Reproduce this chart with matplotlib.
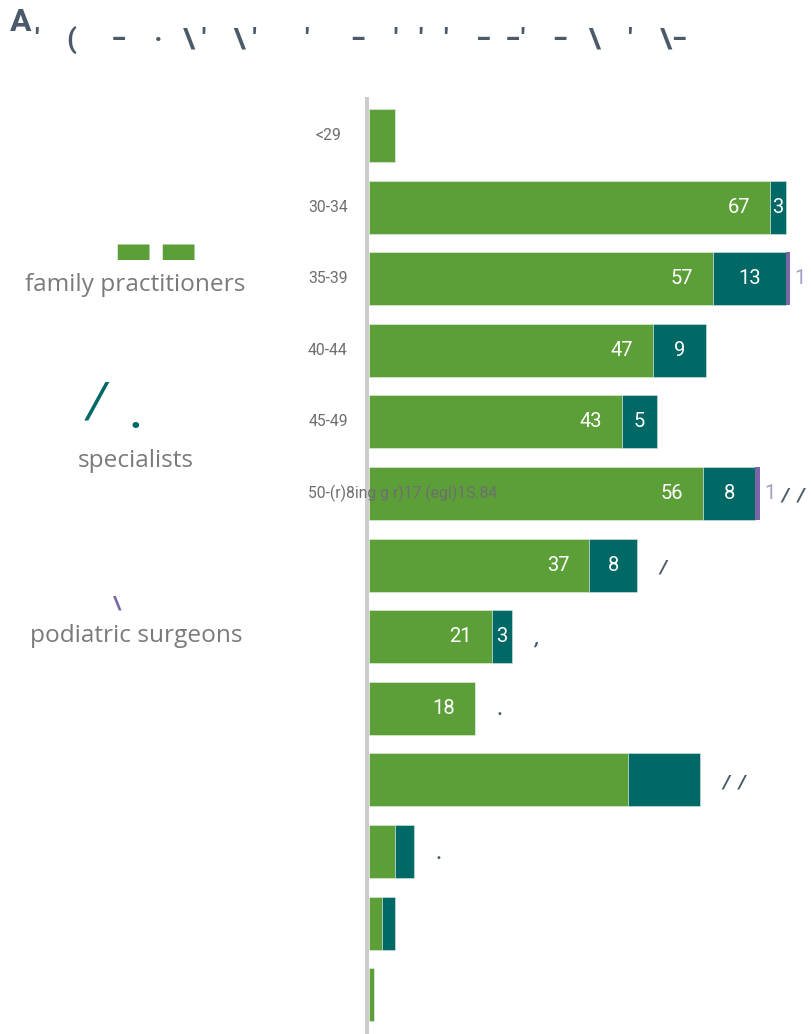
import numpy as np
import matplotlib.pyplot as plt
from matplotlib.transforms import blended_transform_factory

# data (one row per age band, top to bottom)
age_labels = ['<29', '30-34', '35-39', '40-44', '45-49', '50-(r)8ing g r)17 (egl)1S.84',
              '', '', '', '', '', '', '']
family = [4.3, 66.8, 57.3, 47.3, 42.2, 55.7, 36.7, 20.5, 17.7, 43.2, 4.3, 2.2, 0.8]
specialist = [0, 2.7, 12.2, 8.8, 5.8, 8.7, 8.0, 3.3, 0, 12.0, 3.2, 2.2, 0]
podiatric = [0, 0, 0.6, 0, 0, 0.7, 0, 0, 0, 0, 0, 0, 0]
family_lbl = ['', '67', '57', '47', '43', '56', '37', '21', '18', '', '', '', '']
specialist_lbl = ['', '3', '13', '9', '5', '8', '8', '3', '', '', '', '', '']
podiatric_lbl = ['', '', '1', '', '', '1', '', '', '', '', '', '', '']
total_marks = ['', '', '', '', '', '/  /', '/', ',', '.', '/  /', '.', '', '']
groups = ['family practitioners', 'specialists', 'podiatric surgeons']

green = '#5c9f38'
teal = '#006865'
purple = '#7a67a8'
slate = '#4a5a68'

plt.rcParams['font.family'] = ['Roboto', 'DejaVu Sans']

W, H = 812, 1034
fig = plt.figure(figsize=(W / 100, H / 100), dpi=100)

# axes: 0 of x at pixel 369, 6 px per unit; rows 71.6 px apart
left_px = 365
ax = fig.add_axes([left_px / W, 0, 1 - left_px / W, (1034 - 97) / H])
x0 = -(369 - left_px) / 6
ax.set_xlim(x0, x0 + (W - left_px) / 6)
n = len(family)
ypos = np.arange(n)
ax.set_ylim(12 + (1034 - 994.7) / 71.6, -(135.5 - 97) / 71.6)
ax.axis('off')

fam = np.array(family)
spe = np.array(specialist)
pod = np.array(podiatric)
h = 0.74
ax.barh(ypos, fam, height=h, color=green, edgecolor='#e8f0e0', linewidth=0.4)
ax.barh(ypos, spe, left=fam, height=h, color=teal, edgecolor='#d8e8e8', linewidth=0.4)
ax.barh(ypos, pod, left=fam + spe, height=h, color=purple, linewidth=0)
ax.axvline(-2 / 6, color='#cccccc', linewidth=2.9, zorder=5)

for i in range(n):
    if family_lbl[i]:
        ax.text(fam[i] - 20 / 6, i, family_lbl[i], ha='right', va='center',
                color='white', fontsize=14.5)
    if specialist_lbl[i]:
        ax.text(fam[i] + spe[i] / 2, i, specialist_lbl[i], ha='center', va='center',
                color='white', fontsize=14.5)
    if podiatric_lbl[i]:
        ax.text(fam[i] + spe[i] + pod[i] + 5 / 6, i, podiatric_lbl[i], ha='left',
                va='center', color='#a99bc8', fontsize=14.5)
    if total_marks[i]:
        ax.text(fam[i] + spe[i] + pod[i] + 3.7, i + 0.03, total_marks[i], ha='left',
                va='center', color=slate, fontsize=14, style='italic', fontweight='bold')

# row labels
tr = blended_transform_factory(fig.transFigure, ax.transData)
for i, lab in enumerate(age_labels):
    if not lab:
        continue
    if len(lab) > 6:
        ax.text(308 / W, i, lab, transform=tr, ha='left', va='center',
                color='#6e6e6e', fontsize=11.3, zorder=6)
    else:
        ax.text(328 / W, i, lab, transform=tr, ha='center', va='center',
                color='#6e6e6e', fontsize=11.3, zorder=6)

# left hand group labels
gl = dict(ha='center', va='center', color='#7a7a7a', fontsize=17.6, family='Open Sans')
fig.text(135 / W, 1 - 285 / H, groups[0], **gl)
fig.text(136 / W, 1 - 461 / H, groups[1], **gl)
fig.text(136 / W, 1 - 636 / H, groups[2], **gl)

# fragments of the big numbers above the group labels
fig.text(133 / W, 1 - 251 / H, '\u25ac', ha='center', va='center', color=green,
         fontsize=30, family='DejaVu Sans')
fig.text(178 / W, 1 - 251 / H, '\u25ac', ha='center', va='center', color=green,
         fontsize=30, family='DejaVu Sans')
fig.text(97 / W, 1 - 404 / H, '/', ha='center', va='center', color=teal,
         fontsize=36, style='italic')
fig.text(136 / W, 1 - 416 / H, '.', ha='center', va='center', color=teal,
         fontsize=30, fontweight='bold')
fig.text(117 / W, 1 - 604 / H, '\\', ha='center', va='center', color=purple,
         fontsize=14, fontweight='bold')

# title (only partly legible in the picture)
fig.text(10 / W, 1 - 22 / H, 'A', ha='left', va='center', color=slate,
         fontsize=23, fontweight='bold')
fig.text(35 / W, 1 - 40 / H,
         "'    (     \u2012    \u00b7   \\ '    \\ '       '      \u2012    '   '   '    \u2012  \u2012'    \u2012   \\    '    \\\u2012",
         ha='left', va='center', color=slate, fontsize=20, fontweight='bold')

fig.savefig('out.png', dpi=100, facecolor='white')
